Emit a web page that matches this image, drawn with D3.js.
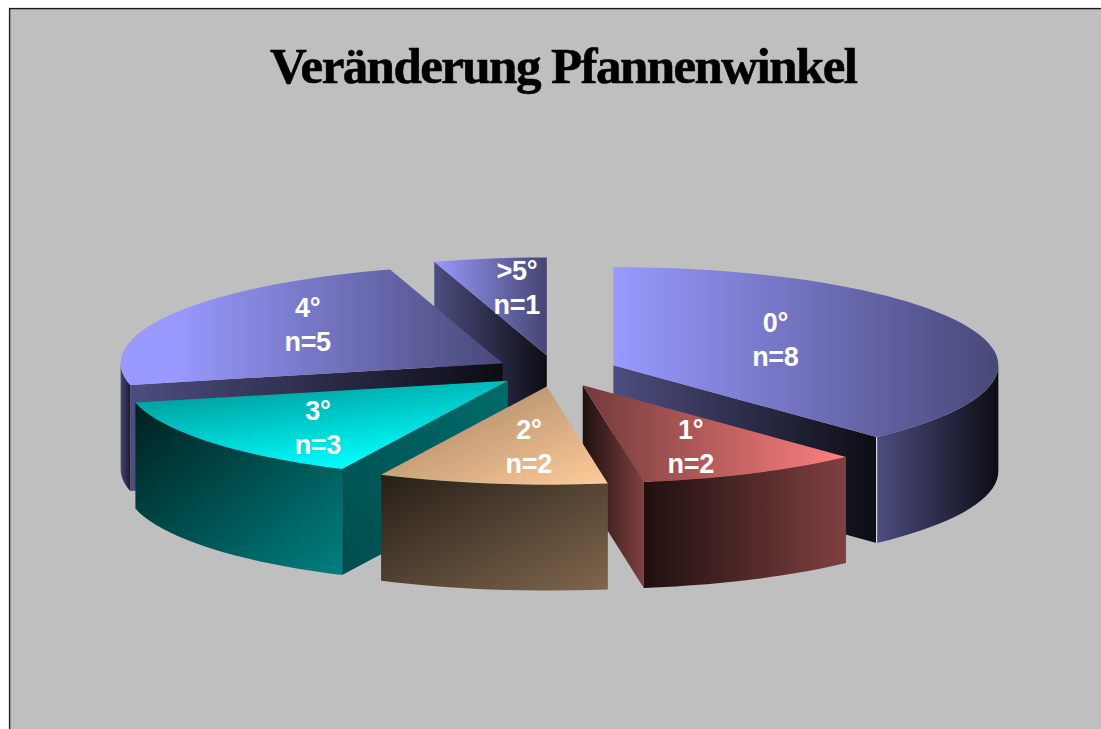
<!DOCTYPE html>
<html>
<head>
<meta charset="utf-8">
<script src="https://cdn.jsdelivr.net/npm/d3@7/dist/d3.min.js"></script>
<style>
  html, body { margin: 0; padding: 0; background: #fff; }
  svg { display: block; }
</style>
</head>
<body>
<svg id="chart" width="1101" height="729"></svg>
<script>
// Change of the acetabular angle: number of cases per degree class.
const titleText = "Veränderung Pfannenwinkel";
const categories = ["0°", "1°", "2°", "3°", "4°", ">5°"];
const counts = [8, 2, 2, 3, 5, 1];
const baseColors = ["#9999FF", "#FF8080", "#FFCC99", "#00FFFF", "#9999FF", "#9999FF"];

const width = 1101, height = 729;
const svg = d3.select("#chart");
const defs = svg.append("defs");

// Projection of the tilted, exploded pie.
const center = { x: 556, y: 371 };
const radiusX = 385, radiusY = 98, depth = 106, explode = 0.16;
const sx = d3.scaleLinear().domain([-1, 1]).range([-radiusX, radiusX]);
const sy = d3.scaleLinear().domain([-1, 1]).range([-radiusY, radiusY]);
// Rim abscissa with a slight perspective skew between the left and right halves.
const rimX = d3.scaleLinear().domain([-1, 0, 0.149, 1]).range([-382, 0, 61, 385]);

const slices = d3.pie().sort(null).value(d => d)(counts)
  .map((s, i) => {
    const mid = (s.startAngle + s.endAngle) / 2;
    return {
      ...s, i,
      apex: [center.x + explode * sx(Math.sin(mid)), center.y - explode * sy(Math.cos(mid))]
    };
  });

const rimPoint = (s, a) => [s.apex[0] + rimX(Math.sin(a)), s.apex[1] - sy(Math.cos(a))];
const rimPoints = (s, a0, a1) => {
  const step = Math.PI / 72;
  const n = Math.max(1, Math.ceil((a1 - a0) / step));
  return d3.range(n + 1).map(k => rimPoint(s, a0 + (a1 - a0) * k / n));
};
const down = p => [p[0], p[1] + depth];
const line = d3.line();

// Face shading: [gradient vector in the face's box, brightness at start, brightness at end].
const H = [0, 0, 1, 0];
const D = [0, 0, 1, 1];
const shading = [
  { top: [H, 1, 0.47],      cut: [H, 0.5, 0.08],  wall: [H, 0.5, 0.08] },
  { top: [H, 0.45, 1],      cut: [H, 0.12, 0.5],  wall: [H, 0.12, 0.5] },
  { top: [D, 0.62, 1],      cut: [D, 0.15, 0.5],  wall: [D, 0.15, 0.5] },
  { top: [[0, 0, 0.55, 1], 0.55, 1], cut: [[0, 1, 1, 0], 0.3, 0.42], wall: [D, 0.12, 0.5] },
  { top: [[0.14, 0, 1, 0], 1, 0.47], cut: [H, 0.5, 0.08],  wall: [H, 0.45, 0.18] },
  { top: [H, 1, 0.45],      cut: [H, 0.5, 0.08],  wall: [H, 0.5, 0.08] }
];

function gradient(id, base, spec) {
  const [v, from, to] = spec;
  const shade = k => {
    const c = d3.rgb(base);
    return d3.rgb(c.r * k, c.g * k, c.b * k).formatRgb();
  };
  const g = defs.append("linearGradient").attr("id", id)
    .attr("x1", v[0]).attr("y1", v[1]).attr("x2", v[2]).attr("y2", v[3]);
  g.append("stop").attr("offset", 0).attr("stop-color", shade(from));
  g.append("stop").attr("offset", 1).attr("stop-color", shade(to));
  return `url(#${id})`;
}

// Backdrop with its frame running off the right and bottom edges.
svg.append("rect").attr("width", width).attr("height", height).attr("fill", "#fff");
svg.append("rect")
  .attr("x", 9.6).attr("y", 8.6).attr("width", width + 40).attr("height", height + 40)
  .attr("fill", "#BFBFBF").attr("stroke", "#1c1c1c").attr("stroke-width", 1.4);

svg.append("text")
  .attr("x", 564).attr("y", 83)
  .attr("text-anchor", "middle")
  .attr("font-family", "'Liberation Serif', serif")
  .attr("font-weight", 700).attr("font-size", 51)
  .attr("textLength", 588).attr("lengthAdjust", "spacing")
  .attr("fill", "#000").attr("stroke", "#000").attr("stroke-width", 0.6)
  .text(titleText);

// Painter's order: back slices first, the front ones overlap them.
const paintOrder = [5, 0, 4, 1, 3, 2];
const pieLayer = svg.append("g");

paintOrder.forEach(i => {
  const s = slices[i];
  const g = pieLayer.append("g").attr("class", "slice");
  const base = baseColors[i];
  const look = shading[i];
  const cutFill = gradient(`cut${i}`, base, look.cut);

  // Only the cut face turned toward the viewer is drawn.
  const facing = [];
  if (Math.sin(s.startAngle) < -1e-6) facing.push(s.startAngle);
  if (Math.sin(s.endAngle) > 1e-6) facing.push(s.endAngle);
  facing.forEach(a => {
    const p = rimPoint(s, a);
    g.append("path")
      .attr("d", line([s.apex, p, down(p), down(s.apex)]) + "Z")
      .attr("fill", cutFill);
  });

  // Outer wall, only for the part of the rim that faces the viewer.
  const a0 = Math.max(s.startAngle, Math.PI / 2);
  const a1 = Math.min(s.endAngle, 3 * Math.PI / 2);
  if (a1 > a0) {
    const rim = rimPoints(s, a0, a1);
    g.append("path")
      .attr("d", line(rim.concat(rim.map(down).reverse())) + "Z")
      .attr("fill", gradient(`wall${i}`, base, look.wall));
  }

  // Top face.
  g.append("path")
    .attr("d", line([s.apex, ...rimPoints(s, s.startAngle, s.endAngle)]) + "Z")
    .attr("fill", gradient(`top${i}`, base, look.top));
});

// Light seam where the largest slice's cut face meets its wall.
const seam = rimPoint(slices[0], slices[0].endAngle);
svg.append("line")
  .attr("x1", seam[0]).attr("y1", seam[1])
  .attr("x2", seam[0]).attr("y2", seam[1] + depth)
  .attr("stroke", "#d8d8e0").attr("stroke-width", 1.2);

// Two-line labels, placed relative to each slice's apex.
const labelNudge = [[162, -33], [108, 54], [-18, 52], [-190, 39], [-195, -46], [-30, -75]];
const labels = svg.append("g")
  .attr("font-family", "'Liberation Sans', Arial, sans-serif")
  .attr("font-weight", 700).attr("font-size", 27)
  .attr("letter-spacing", -0.3)
  .attr("text-anchor", "middle").attr("fill", "#fff");

slices.forEach((s, i) => {
  const x = s.apex[0] + labelNudge[i][0];
  const y = s.apex[1] + labelNudge[i][1];
  labels.append("text").attr("x", x).attr("y", y).text(categories[i]);
  labels.append("text").attr("x", x).attr("y", y + 34).text(`n=${counts[i]}`);
});
</script>
</body>
</html>
